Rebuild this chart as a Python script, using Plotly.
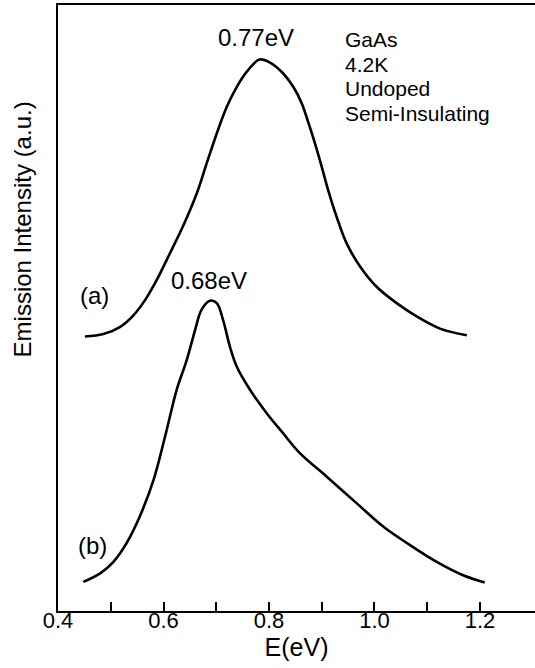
import plotly.graph_objects as go

# Curve (a): E (eV) and emission intensity (a.u.)
E_a = [0.451, 0.486, 0.518, 0.543, 0.565, 0.587, 0.612, 0.638, 0.663, 0.682, 0.701, 0.720, 0.739,
       0.758, 0.782, 0.802, 0.827, 0.846, 0.862, 0.875, 0.887, 0.900, 0.912, 0.928, 0.947, 0.973,
       1.004, 1.042, 1.080, 1.124, 1.175]
I_a = [45.3, 45.7, 46.9, 48.8, 51.3, 54.6, 59.0, 63.7, 68.9, 73.9, 78.8, 83.2, 86.5,
       89.0, 91.0, 90.5, 88.7, 86.5, 83.8, 80.5, 77.2, 73.3, 69.5, 65.1, 60.7, 56.8,
       53.5, 50.8, 48.6, 46.6, 45.5]

# Curve (b)
E_b = [0.448, 0.480, 0.505, 0.530, 0.555, 0.581, 0.603, 0.625, 0.644, 0.660, 0.672, 0.688, 0.701,
       0.713, 0.726, 0.739, 0.764, 0.796, 0.827, 0.859, 0.909, 0.966, 1.017, 1.067, 1.118, 1.168, 1.209]
I_b = [4.8, 6.2, 8.1, 11.2, 15.6, 21.6, 28.8, 36.5, 41.4, 46.4, 49.7, 51.2, 50.8,
       48.0, 43.6, 40.3, 36.5, 32.6, 29.3, 26.0, 22.2, 17.8, 13.9, 10.9, 8.1, 5.9, 4.7]

tick_vals = [0.4, 0.5, 0.6, 0.7, 0.8, 0.9, 1.0, 1.1, 1.2]
tick_text = ["0.4", "", "0.6", "", "0.8", "", "1.0", "", "1.2"]

sample_lines = ["GaAs", "4.2K", "Undoped", "Semi-Insulating"]

FONT = "Liberation Sans, Arial, Helvetica, sans-serif"
TXT = 24

fig = go.Figure()
for E, I in [(E_a, I_a), (E_b, I_b)]:
    fig.add_trace(go.Scatter(x=E, y=I, mode="lines",
                             line=dict(color="black", width=2.6, shape="spline", smoothing=1.0),
                             showlegend=False, hoverinfo="skip"))

block = "<br>".join(f'<span style="font-size:21px">{s}</span>' for s in sample_lines)

ann = [
    dict(x=0.775, y=94.6, text="0.77eV", xanchor="center", yanchor="middle", size=TXT),
    dict(x=0.687, y=54.6, text="0.68eV", xanchor="center", yanchor="middle", size=TXT),
    dict(x=0.469, y=52.0, text="(a)", xanchor="center", yanchor="middle", size=TXT),
    dict(x=0.465, y=10.8, text="(b)", xanchor="center", yanchor="middle", size=TXT),
    dict(x=0.940, y=96.6, text=block, xanchor="left", yanchor="top", size=19, align="left"),
]
annotations = []
for a in ann:
    size = a.pop("size")
    annotations.append(dict(a, xref="x", yref="y", showarrow=False,
                            font=dict(family=FONT, size=size, color="black")))
annotations.append(dict(text="Emission Intensity (a.u.)", xref="paper", yref="paper",
                        x=-0.075, y=0.63, xanchor="center", yanchor="middle", textangle=-90,
                        showarrow=False, font=dict(family=FONT, size=TXT, color="black")))

fig.update_layout(
    width=535, height=668,
    margin=dict(l=58, r=0, t=5, b=57),
    paper_bgcolor="white", plot_bgcolor="white",
    font=dict(family=FONT, size=20, color="black"),
    annotations=annotations,
    xaxis=dict(range=[0.4, 1.3043], tickvals=tick_vals, ticktext=tick_text,
               ticks="inside", ticklen=9, tickwidth=2, tickcolor="black",
               showline=True, linecolor="black", linewidth=2, mirror=True,
               showgrid=False, zeroline=False, ticklabelstandoff=-11,
               tickfont=dict(family=FONT, size=22, color="black"),
               title=dict(text="E(eV)", font=dict(family=FONT, size=25, color="black"), standoff=6)),
    yaxis=dict(range=[0, 100], showticklabels=False, ticks="",
               showline=True, linecolor="black", linewidth=2,
               showgrid=False, zeroline=False),
)

fig.write_html("out.html")
